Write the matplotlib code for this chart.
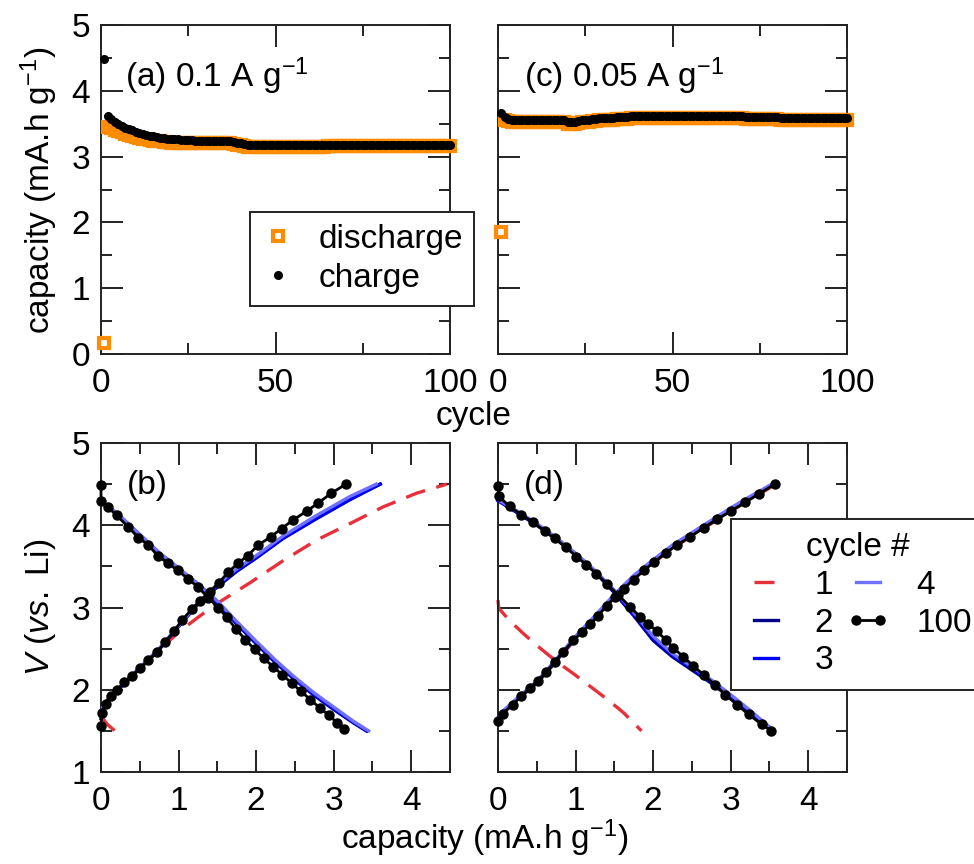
import numpy as np
import matplotlib
matplotlib.use("Agg")
import matplotlib.pyplot as plt
from matplotlib.ticker import MultipleLocator

plt.rcParams['font.family'] = ['Liberation Sans', 'DejaVu Sans']
plt.rcParams['mathtext.fontset'] = 'custom'
plt.rcParams['mathtext.rm'] = 'Liberation Sans'
plt.rcParams['mathtext.it'] = 'Liberation Sans:italic'
plt.rcParams['font.size'] = 24

# ---- cycling data, panels (a) and (c) ----
cycles = list(range(1, 101))

a_discharge = [0.17, 3.45, 3.43, 3.41, 3.39, 3.37, 3.35, 3.33, 3.31, 3.30,
               3.28, 3.27, 3.26, 3.25, 3.24, 3.23, 3.23, 3.22, 3.22, 3.21,
               3.21, 3.21, 3.21, 3.21, 3.21, 3.21, 3.21, 3.21, 3.21, 3.21,
               3.21, 3.21, 3.21, 3.21, 3.21, 3.20, 3.20, 3.19, 3.18, 3.17,
               3.16, 3.15, 3.15, 3.15, 3.15, 3.15, 3.15, 3.15, 3.15, 3.15,
               3.15, 3.15, 3.15, 3.15, 3.15, 3.15, 3.15, 3.15, 3.15, 3.15,
               3.15, 3.15, 3.15, 3.15, 3.16, 3.16, 3.16, 3.16, 3.16, 3.16,
               3.16, 3.16, 3.16, 3.16, 3.16, 3.16, 3.16, 3.16, 3.16, 3.16,
               3.16, 3.16, 3.16, 3.16, 3.16, 3.16, 3.16, 3.16, 3.16, 3.16,
               3.16, 3.16, 3.16, 3.16, 3.16, 3.16, 3.16, 3.16, 3.16, 3.16]
a_charge = [4.48, 3.62, 3.57, 3.53, 3.50, 3.47, 3.44, 3.42, 3.40, 3.38,
            3.36, 3.35, 3.33, 3.32, 3.31, 3.30, 3.29, 3.28, 3.27, 3.27,
            3.26, 3.26, 3.25, 3.25, 3.25, 3.25, 3.24, 3.24, 3.24, 3.24,
            3.24, 3.24, 3.23, 3.23, 3.23, 3.23, 3.23, 3.22, 3.21, 3.20,
            3.19, 3.18, 3.17, 3.17, 3.17, 3.17, 3.17, 3.17, 3.17, 3.17,
            3.17, 3.17, 3.17, 3.17, 3.17, 3.17, 3.17, 3.17, 3.17, 3.17,
            3.17, 3.17, 3.17, 3.17, 3.18, 3.18, 3.18, 3.18, 3.18, 3.18,
            3.18, 3.18, 3.18, 3.18, 3.18, 3.18, 3.18, 3.18, 3.18, 3.18,
            3.18, 3.18, 3.18, 3.18, 3.18, 3.18, 3.18, 3.18, 3.18, 3.18,
            3.18, 3.18, 3.18, 3.18, 3.18, 3.18, 3.18, 3.18, 3.18, 3.18]
c_discharge = [1.86, 3.56, 3.54, 3.53, 3.52, 3.52, 3.52, 3.52, 3.52, 3.52,
               3.53, 3.53, 3.53, 3.53, 3.53, 3.53, 3.53, 3.53, 3.52, 3.49,
               3.49, 3.50, 3.51, 3.52, 3.53, 3.53, 3.54, 3.54, 3.55, 3.55,
               3.56, 3.56, 3.56, 3.57, 3.57, 3.57, 3.57, 3.58, 3.58, 3.58,
               3.58, 3.58, 3.58, 3.59, 3.59, 3.59, 3.59, 3.59, 3.59, 3.59,
               3.59, 3.59, 3.59, 3.59, 3.59, 3.59, 3.59, 3.59, 3.58, 3.58,
               3.58, 3.58, 3.58, 3.58, 3.58, 3.58, 3.58, 3.58, 3.58, 3.58,
               3.57, 3.57, 3.57, 3.57, 3.57, 3.57, 3.57, 3.57, 3.57, 3.57,
               3.56, 3.56, 3.56, 3.56, 3.56, 3.56, 3.56, 3.56, 3.56, 3.56,
               3.55, 3.55, 3.55, 3.55, 3.55, 3.55, 3.55, 3.55, 3.55, 3.55]
c_charge = [3.66, 3.60, 3.57, 3.56, 3.55, 3.55, 3.55, 3.55, 3.55, 3.55,
            3.56, 3.56, 3.56, 3.56, 3.56, 3.56, 3.56, 3.56, 3.55, 3.52,
            3.52, 3.53, 3.54, 3.55, 3.56, 3.56, 3.57, 3.57, 3.58, 3.58,
            3.59, 3.59, 3.59, 3.60, 3.60, 3.60, 3.60, 3.61, 3.61, 3.61,
            3.61, 3.61, 3.61, 3.62, 3.62, 3.62, 3.62, 3.62, 3.62, 3.62,
            3.62, 3.62, 3.62, 3.62, 3.62, 3.62, 3.62, 3.62, 3.61, 3.61,
            3.61, 3.61, 3.61, 3.61, 3.61, 3.61, 3.61, 3.61, 3.61, 3.61,
            3.60, 3.60, 3.60, 3.60, 3.60, 3.60, 3.60, 3.60, 3.60, 3.60,
            3.59, 3.59, 3.59, 3.59, 3.59, 3.59, 3.59, 3.59, 3.59, 3.59,
            3.58, 3.58, 3.58, 3.58, 3.58, 3.58, 3.58, 3.58, 3.58, 3.58]

# ---- voltage profiles, panel (b) 0.1 A/g ----
b1_ch_x = [0.00, 0.02, 0.10, 0.25, 0.50, 0.75, 1.00, 1.25, 1.50, 1.92, 2.35, 2.78, 3.21, 3.63, 4.07, 4.46]
b1_ch_v = [1.70, 1.80, 1.90, 2.03, 2.26, 2.48, 2.70, 2.88, 3.05, 3.30, 3.57, 3.82, 4.02, 4.22, 4.39, 4.50]
b1_dis_x = [0.00, 0.08, 0.18]
b1_dis_v = [1.68, 1.58, 1.50]

b2_ch_x = [0.00, 0.02, 0.10, 0.25, 0.50, 0.75, 1.00, 1.25, 1.50, 1.75, 2.00, 2.35, 2.78, 3.21, 3.60]
b2_ch_v = [1.65, 1.78, 1.88, 2.03, 2.26, 2.49, 2.77, 3.04, 3.25, 3.44, 3.60, 3.84, 4.08, 4.31, 4.50]
b2_dis_x = [0.00, 0.25, 0.50, 0.75, 1.00, 1.25, 1.50, 1.75, 2.00, 2.25, 2.50, 2.75, 3.00, 3.25, 3.42]
b2_dis_v = [4.30, 4.10, 3.87, 3.65, 3.46, 3.27, 3.05, 2.80, 2.56, 2.33, 2.12, 1.93, 1.76, 1.60, 1.50]

b3_ch_x = [0.00, 0.02, 0.10, 0.25, 0.50, 0.75, 1.00, 1.25, 1.50, 1.75, 2.00, 2.35, 2.78, 3.21, 3.60]
b3_ch_v = [1.65, 1.78, 1.88, 2.03, 2.26, 2.49, 2.77, 3.05, 3.26, 3.45, 3.61, 3.85, 4.09, 4.32, 4.50]
b3_dis_x = [0.00, 0.25, 0.50, 0.75, 1.00, 1.25, 1.50, 1.75, 2.00, 2.25, 2.50, 2.75, 3.00, 3.25, 3.43]
b3_dis_v = [4.30, 4.10, 3.88, 3.66, 3.47, 3.28, 3.06, 2.81, 2.57, 2.34, 2.13, 1.94, 1.77, 1.61, 1.50]

b4_ch_x = [0.00, 0.02, 0.10, 0.25, 0.50, 0.75, 1.00, 1.25, 1.50, 1.75, 2.00, 2.35, 2.78, 3.21, 3.55]
b4_ch_v = [1.66, 1.79, 1.89, 2.04, 2.27, 2.50, 2.78, 3.06, 3.28, 3.47, 3.63, 3.87, 4.12, 4.35, 4.50]
b4_dis_x = [0.00, 0.25, 0.50, 0.75, 1.00, 1.25, 1.50, 1.75, 2.00, 2.25, 2.50, 2.75, 3.00, 3.25, 3.45]
b4_dis_v = [4.31, 4.11, 3.89, 3.67, 3.48, 3.29, 3.08, 2.83, 2.59, 2.36, 2.15, 1.96, 1.79, 1.62, 1.50]

b100_ch_x = [0.00, 0.01, 0.06, 0.13, 0.21, 0.30, 0.40, 0.50, 0.61, 0.72, 0.83, 0.94, 1.05, 1.17,
             1.28, 1.40, 1.52, 1.64, 1.77, 1.89, 2.03, 2.19, 2.33, 2.47, 2.65, 2.80, 2.97, 3.16]
b100_ch_v = [1.56, 1.72, 1.83, 1.92, 2.00, 2.09, 2.17, 2.26, 2.36, 2.46, 2.58, 2.71, 2.85, 2.98,
             3.08, 3.19, 3.30, 3.43, 3.54, 3.63, 3.76, 3.86, 3.96, 4.06, 4.17, 4.27, 4.39, 4.50]
b100_dis_x = [0.00, 0.00, 0.09, 0.20, 0.35, 0.48, 0.61, 0.73, 0.86, 0.99, 1.12, 1.25, 1.38, 1.51,
              1.62, 1.74, 1.86, 1.98, 2.10, 2.22, 2.34, 2.46, 2.58, 2.70, 2.82, 2.94, 3.04, 3.13]
b100_dis_v = [4.49, 4.29, 4.22, 4.12, 3.98, 3.85, 3.76, 3.63, 3.54, 3.45, 3.35, 3.25, 3.12, 3.00,
              2.88, 2.74, 2.61, 2.49, 2.38, 2.28, 2.18, 2.08, 1.98, 1.88, 1.78, 1.69, 1.60, 1.52]

# ---- voltage profiles, panel (d) 0.05 A/g ----
d1_ch_x = [0.00, 0.05, 0.25, 0.50, 0.75, 1.00, 1.25, 1.50, 1.75, 2.00, 2.25, 2.50, 2.75, 3.00, 3.25, 3.55]
d1_ch_v = [1.60, 1.70, 1.88, 2.08, 2.34, 2.62, 2.86, 3.12, 3.35, 3.54, 3.72, 3.87, 4.02, 4.17, 4.31, 4.48]
d1_dis_x = [0.00, 0.01, 0.15, 0.33, 0.55, 0.76, 0.98, 1.19, 1.40, 1.62, 1.85]
d1_dis_v = [3.09, 2.99, 2.84, 2.68, 2.50, 2.34, 2.19, 2.04, 1.89, 1.72, 1.50]

d2_ch_x = [0.00, 0.05, 0.25, 0.50, 0.75, 1.00, 1.25, 1.50, 1.75, 2.00, 2.25, 2.50, 2.75, 3.00, 3.25, 3.55]
d2_ch_v = [1.62, 1.72, 1.89, 2.08, 2.35, 2.63, 2.87, 3.13, 3.36, 3.55, 3.73, 3.88, 4.03, 4.18, 4.32, 4.50]
d2_dis_x = [0.00, 0.25, 0.50, 0.75, 1.00, 1.25, 1.50, 1.75, 2.00, 2.25, 2.50, 2.75, 3.00, 3.25, 3.55]
d2_dis_v = [4.30, 4.15, 4.00, 3.83, 3.64, 3.43, 3.18, 2.90, 2.60, 2.40, 2.24, 2.08, 1.90, 1.72, 1.50]

d3_ch_x = [0.00, 0.05, 0.25, 0.50, 0.75, 1.00, 1.25, 1.50, 1.75, 2.00, 2.25, 2.50, 2.75, 3.00, 3.25, 3.55]
d3_ch_v = [1.62, 1.72, 1.89, 2.09, 2.36, 2.64, 2.88, 3.14, 3.37, 3.56, 3.74, 3.89, 4.04, 4.19, 4.33, 4.50]
d3_dis_x = [0.00, 0.25, 0.50, 0.75, 1.00, 1.25, 1.50, 1.75, 2.00, 2.25, 2.50, 2.75, 3.00, 3.25, 3.55]
d3_dis_v = [4.30, 4.16, 4.01, 3.84, 3.65, 3.44, 3.20, 2.92, 2.63, 2.42, 2.26, 2.10, 1.92, 1.73, 1.50]

d4_ch_x = [0.00, 0.05, 0.25, 0.50, 0.75, 1.00, 1.25, 1.50, 1.75, 2.00, 2.25, 2.50, 2.75, 3.00, 3.25, 3.55]
d4_ch_v = [1.63, 1.73, 1.90, 2.10, 2.37, 2.65, 2.90, 3.16, 3.39, 3.58, 3.76, 3.91, 4.06, 4.21, 4.35, 4.51]
d4_dis_x = [0.00, 0.25, 0.50, 0.75, 1.00, 1.25, 1.50, 1.75, 2.00, 2.25, 2.50, 2.75, 3.00, 3.25, 3.56]
d4_dis_v = [4.31, 4.17, 4.02, 3.85, 3.66, 3.45, 3.21, 2.94, 2.65, 2.44, 2.28, 2.12, 1.94, 1.75, 1.50]

d100_ch_x = [0.00, 0.06, 0.19, 0.30, 0.41, 0.51, 0.62, 0.73, 0.84, 0.97, 1.08, 1.19, 1.29, 1.40,
             1.51, 1.62, 1.75, 1.88, 2.01, 2.16, 2.31, 2.48, 2.65, 2.82, 3.00, 3.19, 3.36, 3.57]
d100_ch_v = [1.62, 1.71, 1.82, 1.92, 2.02, 2.11, 2.21, 2.34, 2.46, 2.60, 2.70, 2.80, 2.90, 3.02,
             3.13, 3.23, 3.34, 3.45, 3.55, 3.66, 3.76, 3.86, 3.97, 4.07, 4.17, 4.28, 4.38, 4.50]
d100_dis_x = [0.00, 0.01, 0.15, 0.30, 0.45, 0.60, 0.73, 0.88, 1.01, 1.14, 1.27, 1.40, 1.55, 1.70,
              1.83, 1.94, 2.05, 2.16, 2.26, 2.39, 2.52, 2.65, 2.80, 2.93, 3.08, 3.23, 3.40, 3.52]
d100_dis_v = [4.48, 4.35, 4.23, 4.13, 4.04, 3.93, 3.84, 3.73, 3.62, 3.52, 3.41, 3.29, 3.15, 3.01,
              2.89, 2.80, 2.71, 2.61, 2.51, 2.40, 2.29, 2.18, 2.06, 1.94, 1.82, 1.70, 1.58, 1.50]

cycle_labels = ['1', '2', '3', '4', '100']
cycle_colors = ['#e8303a', '#00008b', '#0000ff', '#7070ff', 'black']

orange = '#ff8c00'

fig = plt.figure(figsize=(9.74, 8.64), dpi=100)
W, H = 974.0, 864.0


def ax_at(x0, y0, x1, y1):
    return fig.add_axes([x0 / W, 1 - y1 / H, (x1 - x0) / W, (y1 - y0) / H])


ax_a = ax_at(101, 25, 450, 354)
ax_c = ax_at(498, 25, 847, 354)
ax_b = ax_at(101, 443, 450, 772)
ax_d = ax_at(498, 443, 847, 772)

for ax in [ax_a, ax_c, ax_b, ax_d]:
    for s in ax.spines.values():
        s.set_linewidth(1.4)
        s.set_color('#222222')
    ax.tick_params(which='both', direction='in', top=True, right=True,
                   width=1.4, color='#222222', labelsize=24)
    ax.tick_params(which='major', length=16)
    ax.tick_params(which='minor', length=8)
    ax.tick_params(axis='x', pad=10)
    ax.tick_params(axis='y', pad=8)

# top row
for ax, dis, ch in [(ax_a, a_discharge, a_charge), (ax_c, c_discharge, c_charge)]:
    ax.plot(cycles, dis, ls='none', marker='s', ms=6.5, mew=3, mfc='white',
            mec=orange, label='discharge', clip_on=False, zorder=3)
    ax.plot(cycles, ch, ls='none', marker='o', ms=5.5, color='black',
            label='charge', clip_on=False, zorder=4)
    ax.set_xlim(0, 100)
    ax.set_ylim(0, 5)
    ax.xaxis.set_major_locator(MultipleLocator(50))
    ax.xaxis.set_minor_locator(MultipleLocator(25))
    ax.yaxis.set_major_locator(MultipleLocator(1))
    ax.yaxis.set_minor_locator(MultipleLocator(0.5))

ax_c.tick_params(axis='y', labelleft=False)
ax_a.text(0.07, 0.845, '(a) 0.1 A g$^{-1}$', transform=ax_a.transAxes, va='center', fontsize=24)
ax_c.text(0.075, 0.845, '(c) 0.05 A g$^{-1}$', transform=ax_c.transAxes, va='center', fontsize=24)

# bottom row
b_sets = [(b1_ch_x, b1_ch_v, b1_dis_x, b1_dis_v), (b2_ch_x, b2_ch_v, b2_dis_x, b2_dis_v),
          (b3_ch_x, b3_ch_v, b3_dis_x, b3_dis_v), (b4_ch_x, b4_ch_v, b4_dis_x, b4_dis_v),
          (b100_ch_x, b100_ch_v, b100_dis_x, b100_dis_v)]
d_sets = [(d1_ch_x, d1_ch_v, d1_dis_x, d1_dis_v), (d2_ch_x, d2_ch_v, d2_dis_x, d2_dis_v),
          (d3_ch_x, d3_ch_v, d3_dis_x, d3_dis_v), (d4_ch_x, d4_ch_v, d4_dis_x, d4_dis_v),
          (d100_ch_x, d100_ch_v, d100_dis_x, d100_dis_v)]

handles = []
for ax, sets in [(ax_b, b_sets), (ax_d, d_sets)]:
    handles = []
    for i, (cx, cv, dx, dv) in enumerate(sets):
        col = cycle_colors[i]
        if i == 0:
            kw = dict(color=col, lw=2.4, ls=(0, (6, 3.5)))
        elif i == 4:
            kw = dict(color=col, lw=2, marker='o', ms=6.5)
        else:
            kw = dict(color=col, lw=2.4)
        h, = ax.plot(cx, cv, label=cycle_labels[i], clip_on=False, zorder=2 + i, **kw)
        ax.plot(dx, dv, clip_on=False, zorder=2 + i, **kw)
        handles.append(h)
    ax.set_xlim(0, 4.5)
    ax.set_ylim(1, 5)
    ax.xaxis.set_major_locator(MultipleLocator(1))
    ax.xaxis.set_minor_locator(MultipleLocator(0.5))
    ax.yaxis.set_major_locator(MultipleLocator(1))
    ax.yaxis.set_minor_locator(MultipleLocator(0.5))

ax_d.tick_params(axis='y', labelleft=False)
ax_b.text(0.075, 0.872, '(b)', transform=ax_b.transAxes, va='center', fontsize=24)
ax_d.text(0.075, 0.872, '(d)', transform=ax_d.transAxes, va='center', fontsize=24)

# legends
h_a, l_a = ax_a.get_legend_handles_labels()
leg1 = fig.legend(h_a, l_a, loc='upper left', bbox_to_anchor=(250 / W, 1 - 212 / H),
                  borderaxespad=0, numpoints=1, fontsize=24, handlelength=1.0,
                  handletextpad=0.7, labelspacing=0.25, borderpad=0.35,
                  fancybox=False, edgecolor='#222222', framealpha=1)
leg1.get_frame().set_linewidth(1.4)

leg2 = fig.legend(handles, cycle_labels, loc='upper left', bbox_to_anchor=(731 / W, 1 - 519 / H),
                  borderaxespad=0, ncol=2, numpoints=2, title='cycle #', title_fontsize=24,
                  fontsize=24, handlelength=1.3, handletextpad=0.8, columnspacing=0.4,
                  labelspacing=0.2, borderpad=0.4, fancybox=False,
                  edgecolor='#222222', framealpha=1)
leg2.get_frame().set_linewidth(1.4)

# axis labels
fig.text(0.04, 1 - 190 / H, 'capacity (mA.h g$^{-1}$)', rotation=90, ha='center', va='center', fontsize=24)
fig.text(40 / W, 1 - 607 / H, '$\\mathit{V}$ ($\\mathit{vs.}$ Li)', rotation=90, ha='center', va='center', fontsize=24)
fig.text(474 / W, 1 - 417 / H, 'cycle', ha='center', va='center', fontsize=24)
fig.text(485 / W, 1 - 838 / H, 'capacity (mA.h g$^{-1}$)', ha='center', va='center', fontsize=24)

fig.savefig('out.png', dpi=100)
